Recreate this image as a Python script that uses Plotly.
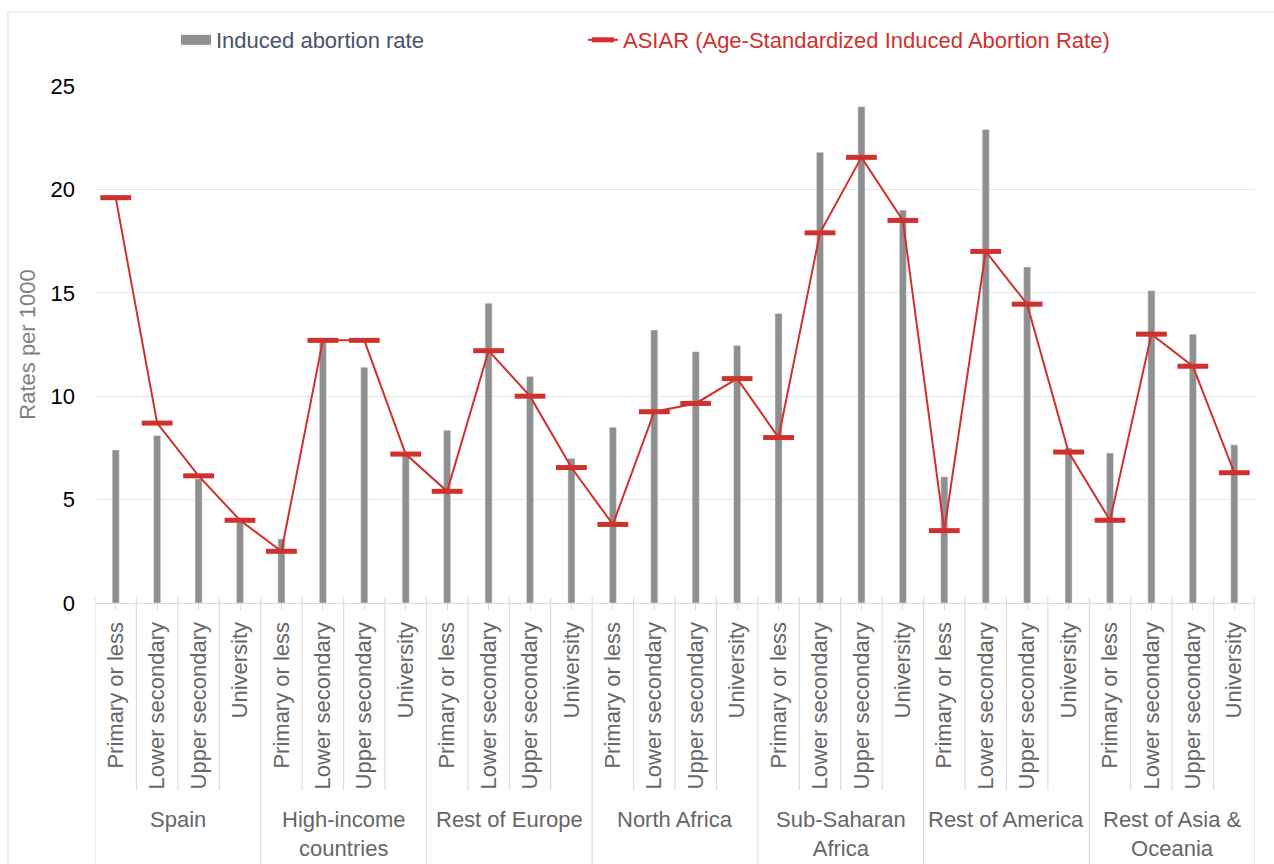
import plotly.graph_objects as go

regions = ["Spain", "High-income<br>countries", "Rest of Europe", "North Africa",
           "Sub-Saharan<br>Africa", "Rest of America", "Rest of Asia &<br>Oceania"]
levels = ["Primary or less", "Lower secondary", "Upper secondary", "University"]

induced_rate = [
    7.4, 8.1, 6.0, 3.9,      # Spain
    3.1, 12.7, 11.4, 7.2,    # High-income countries
    8.35, 14.5, 10.95, 7.0,  # Rest of Europe
    8.5, 13.2, 12.15, 12.45, # North Africa
    14.0, 21.8, 24.0, 19.0,  # Sub-Saharan Africa
    6.1, 22.9, 16.25, 7.5,   # Rest of America
    7.25, 15.1, 13.0, 7.65,  # Rest of Asia & Oceania
]
asiar = [
    19.6, 8.7, 6.15, 4.0,
    2.5, 12.7, 12.7, 7.2,
    5.4, 12.2, 10.0, 6.55,
    3.8, 9.25, 9.65, 10.85,
    8.0, 17.9, 21.55, 18.5,
    3.5, 17.0, 14.45, 7.3,
    4.0, 13.0, 11.45, 6.3,
]

FONT = "Liberation Sans, Arial, Helvetica, sans-serif"
FS = 22
GRAY_BAR = "#8f8f8f"
RED = "#d0312d"
LABEL = "#666666"
LINE = "#dcdcdc"

n = len(induced_rate)
xs = list(range(n))
tick_text = [levels[i % 4] for i in xs]

# layout geometry (pixels)
W, H = 1274, 864
ML, MR, MT, MB = 95, 19, 86, 261
PH = H - MT - MB


def py(pix):
    """pixel row -> paper y"""
    return (H - MB - pix) / PH


def px(pix):
    return (pix - ML) / (W - ML - MR)


fig = go.Figure()
fig.add_trace(go.Bar(
    x=xs, y=induced_rate, width=0.17, marker_color=GRAY_BAR,
    name="Induced abortion rate", showlegend=False, legendgroup="rate",
))
# legend entry for the bars (wide grey key, as in the original)
fig.add_trace(go.Scatter(
    x=[None], y=[None], mode="lines", line=dict(color=GRAY_BAR, width=10),
    name="<span style='color:#44546a'>Induced abortion rate</span>",
    legendgroup="rate", hoverinfo="skip",
))
fig.add_trace(go.Scatter(
    x=xs, y=asiar, mode="lines+markers",
    line=dict(color=RED, width=2),
    marker=dict(symbol="line-ew", size=22, line=dict(color=RED, width=5)),
    name="<span style='color:%s'>ASIAR (Age-Standardized Induced Abortion Rate)</span>" % RED,
    legend="legend2",
))

shapes = []
for k in range(n + 1):
    group_edge = (k % 4 == 0)
    shapes.append(dict(
        type="line", xref="x", yref="paper",
        x0=k - 0.5, x1=k - 0.5,
        y0=py(597), y1=py(H + 20) if group_edge else py(790),
        line=dict(color=LINE, width=1.2), layer="below",
    ))
# outer frame (left and top edges visible)
shapes.append(dict(type="line", xref="paper", yref="paper",
                   x0=px(8), x1=px(W + 20), y0=py(12), y1=py(12),
                   line=dict(color="#e3e3e3", width=1.2)))
shapes.append(dict(type="line", xref="paper", yref="paper",
                   x0=px(8), x1=px(8), y0=py(12), y1=py(H + 20),
                   line=dict(color="#e3e3e3", width=1.2)))

annotations = []
for g, name in enumerate(regions):
    annotations.append(dict(
        x=4 * g + 1.5, xref="x", y=py(805), yref="paper",
        text=name, showarrow=False, yanchor="top", xanchor="center",
        font=dict(family=FONT, size=FS, color=LABEL), align="center",
    ))

fig.update_layout(
    width=W, height=H, autosize=False,
    margin=dict(l=ML, r=MR, t=MT, b=MB),
    paper_bgcolor="white", plot_bgcolor="white",
    font=dict(family=FONT, size=FS, color="#000000"),
    showlegend=True,
    legend=dict(orientation="h", x=px(176), y=py(40), xanchor="left", yanchor="middle",
                font=dict(family=FONT, size=FS), bgcolor="rgba(0,0,0,0)"),
    legend2=dict(orientation="h", x=px(583), y=py(40), xanchor="left", yanchor="middle",
                 font=dict(family=FONT, size=FS), bgcolor="rgba(0,0,0,0)"),
    shapes=shapes, annotations=annotations,
    bargap=0.8,
)
fig.update_xaxes(
    range=[-0.5, n - 0.5], tickmode="array", tickvals=xs, ticktext=tick_text,
    tickangle=-90, tickfont=dict(family=FONT, size=FS, color=LABEL),
    ticks="outside", ticklen=6, tickcolor=LINE, showline=True, linecolor=LINE,
    linewidth=1.2, showgrid=False, zeroline=False, ticklabelstandoff=3,
)
fig.update_yaxes(
    range=[0, 25], dtick=5, showgrid=True, gridcolor="#e6e6e6", gridwidth=1.2,
    zeroline=False, tickfont=dict(family=FONT, size=FS, color="#000000"),
    ticklabelstandoff=19,
    title=dict(text="Rates per 1000", font=dict(family=FONT, size=FS, color="#7f7f7f"), standoff=8),
)

fig.write_html(
    "out.html",
    config={"displayModeBar": False},
    post_script="document.body.style.margin='0';document.body.style.overflow='hidden';",
)
